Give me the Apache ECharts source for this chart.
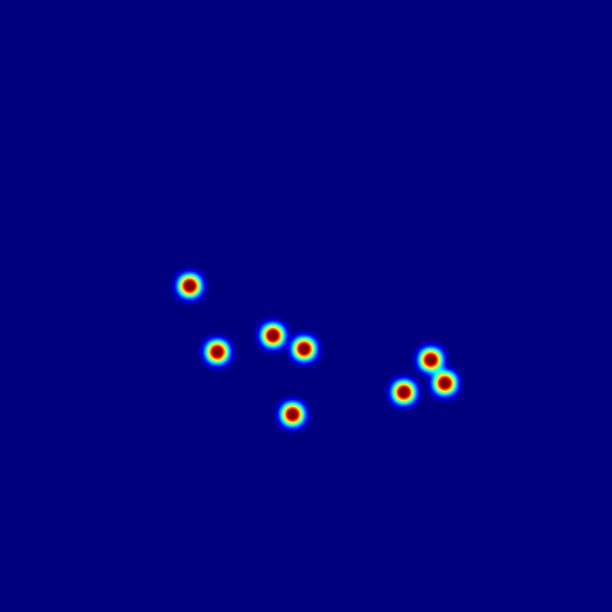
<!DOCTYPE html>
<html><head><meta charset="utf-8">
<script src="https://cdn.jsdelivr.net/npm/echarts@6/dist/echarts.min.js"></script>
<style>html,body{margin:0;padding:0;background:#00007f}#c{width:612px;height:612px}</style>
</head><body><div id="c"></div>
<script>
// point locations in a 0..100 square (x to the right, y upward), intensity
const xs = [31.0, 35.5, 44.6, 49.7, 47.8, 66.0, 70.4, 72.7];
const ys = [53.3, 42.5, 45.2, 43.0, 32.3, 35.9, 41.2, 37.4];
const vals = [1, 1, 1, 1, 1, 1, 1, 1];
const jet = ['#00007f', '#0000ff', '#007fff', '#00ffff', '#7fff7f', '#ffff00', '#ff7f00', '#ff0000', '#7f0000'];
// the blurred kernel peaks below full density, so the colour ramp is compressed toward low densities
const ramp = jet.concat(new Array(13).fill('#7f0000'));

echarts.registerMap('box', {
  type: 'FeatureCollection',
  features: [{ type: 'Feature', properties: { name: 'box' },
    geometry: { type: 'Polygon', coordinates: [[[0, 0], [100, 0], [100, 100], [0, 100], [0, 0]]] } }]
});
const data = xs.map((x, i) => [x, ys[i], vals[i]]);
const chart = echarts.init(document.getElementById('c'));
chart.setOption({
  backgroundColor: '#00007f',
  animation: false,
  geo: {
    map: 'box', roam: false, aspectScale: 1,
    layoutCenter: ['50%', '50%'], layoutSize: '100%',
    silent: true, label: { show: false },
    itemStyle: { areaColor: '#00007f', borderWidth: 0 },
    emphasis: { disabled: true }
  },
  visualMap: { show: false, min: 0, max: 1, inRange: { color: ramp } },
  series: [{ type: 'heatmap', coordinateSystem: 'geo', data: data,
    pointSize: 7, blurSize: 13, minOpacity: 1, maxOpacity: 1 }]
});
</script></body></html>
